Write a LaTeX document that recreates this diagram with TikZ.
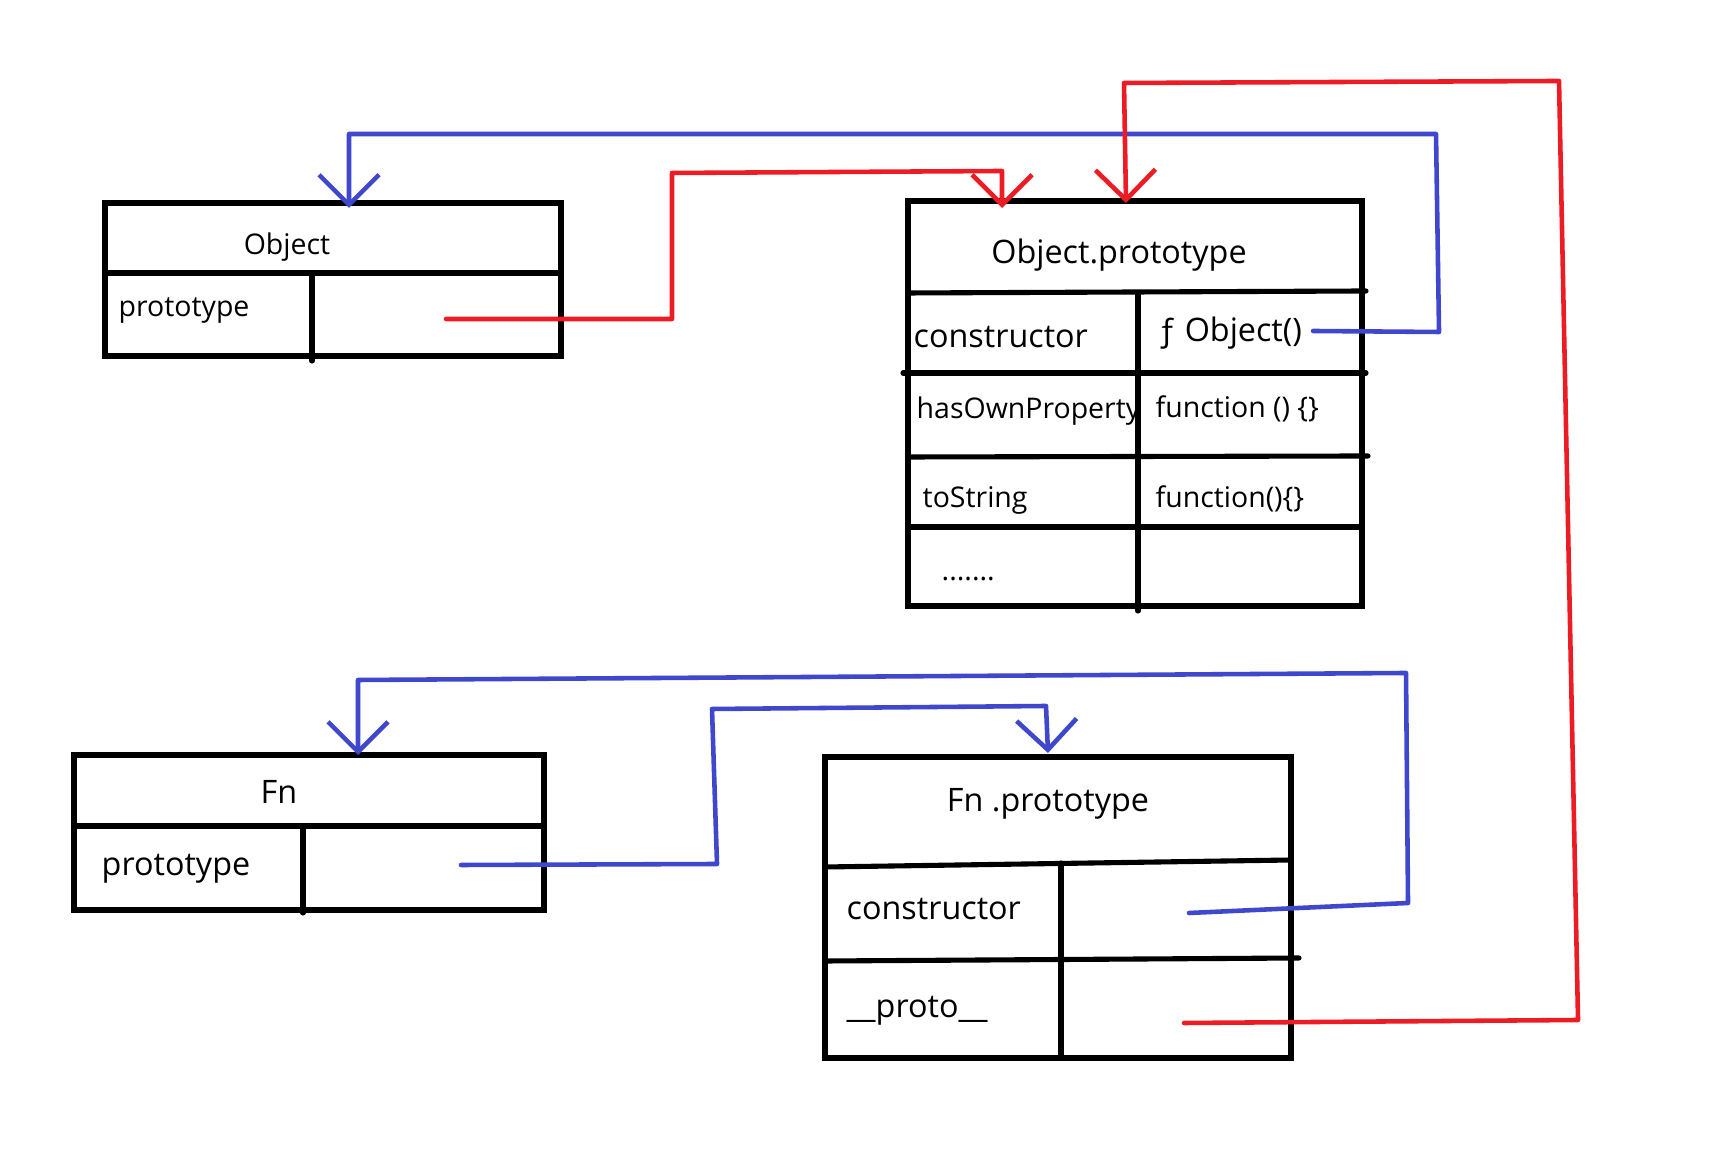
\documentclass[tikz,border=0pt]{standalone}
\usepackage{fontspec}
\setmainfont{Open Sans}
\usetikzlibrary{arrows.meta}

\definecolor{paintred}{RGB}{237,28,36}
\definecolor{paintblue}{RGB}{63,72,204}

\tikzset{
  box/.style={line width=1.45pt, line cap=round},
  redline/.style={paintred, line width=1.3pt, line cap=round, line join=round},
  blueline/.style={paintblue, line width=1.3pt, line cap=round, line join=round},
  barb/.style={-{Straight Barb[length=3mm, width=6mm]}},
  smalltext/.style={font=\fontsize{8.1}{10}\selectfont, inner sep=0pt},
  bigtext/.style={font=\fontsize{9.2}{11}\selectfont, inner sep=0pt}
}

\begin{document}
\begin{tikzpicture}

    % Fix the page to the size of the drawing
    \useasboundingbox (0,0) rectangle (17.36,11.61);

    % Object box: title row and one prototype row
    \draw[box] (1.05,8.05) rectangle (5.61,9.58);
    \draw[box] (1.05,8.88) -- (5.61,8.88);
    \draw[box] (3.12,8.88) -- (3.12,8.00);

    % Object.prototype box: title row and four property rows
    \draw[box] (9.08,5.55) rectangle (13.62,9.60);
    \draw[box] (9.08,8.68) -- (13.66,8.70);
    \draw[box] (9.03,7.88) -- (13.66,7.88);
    \draw[box] (9.08,7.04) -- (13.68,7.05);
    \draw[box] (9.08,6.34) -- (13.62,6.34);
    \draw[box] (11.38,8.68) -- (11.38,5.50);

    % Fn box
    \draw[box] (0.74,2.51) rectangle (5.44,4.06);
    \draw[box] (0.74,3.35) -- (5.44,3.35);
    \draw[box] (3.03,3.35) -- (3.03,2.48);

    % Fn.prototype box
    \draw[box] (8.25,1.03) rectangle (12.91,4.04);
    \draw[box] (8.25,2.94) -- (12.91,3.01);
    \draw[box] (8.25,2.00) -- (12.99,2.03);
    \draw[box] (10.61,2.98) -- (10.61,1.03);

    % Labels of the Object box
    \node[smalltext] (objTitle) at (2.87,9.14) {Object};
    \node[smalltext, anchor=west] (objProto) at (1.18,8.50) {prototype};

    % Labels of the Object.prototype box
    \node[bigtext] (opTitle) at (11.19,9.06) {Object.prototype};
    \node[bigtext, anchor=west] (opCtor) at (9.13,8.24) {constructor};
    \node[bigtext, anchor=west] (opCtorVal) at (11.57,8.28) {ƒ Object()};
    \node[smalltext, anchor=west] (opHas) at (9.16,7.50) {hasOwnProperty};
    \node[smalltext, anchor=west] (opHasVal) at (11.55,7.52) {function () \{\}};
    \node[smalltext, anchor=west] (opStr) at (9.22,6.61) {toString};
    \node[smalltext, anchor=west] (opStrVal) at (11.55,6.62) {function()\{\}};
    \node[smalltext, anchor=base west] (opDots) at (9.41,5.80) {.......};

    % Labels of the Fn box
    \node[bigtext] (fnTitle) at (2.79,3.69) {Fn};
    \node[bigtext, anchor=west] (fnProto) at (1.01,2.92) {prototype};

    % Labels of the Fn.prototype box
    \node[bigtext] (fpTitle) at (10.48,3.57) {Fn .prototype};
    \node[bigtext, anchor=west] (fpCtor) at (8.46,2.52) {constructor};
    \node[bigtext, anchor=west] (fpProto) at (8.46,1.50) {\_\_proto\_\_};

    % Free ends of the pointers and the points they reach
    \coordinate (objPtr) at (4.46,8.42);
    \coordinate (opCtorPtr) at (13.13,8.30);
    \coordinate (fnPtr) at (4.61,2.96);
    \coordinate (fpCtorPtr) at (11.89,2.48);
    \coordinate (fpProtoPtr) at (11.84,1.38);
    \coordinate (objTop) at (3.49,9.53);
    \coordinate (opTopA) at (10.02,9.53);
    \coordinate (opTopB) at (11.26,9.58);
    \coordinate (fnTop) at (3.58,4.06);
    \coordinate (fpTop) at (10.48,4.08);

    % Object.prototype -> Object.prototype box
    \draw[redline, barb] (objPtr) -- (6.72,8.42) -- (6.72,9.88) -- (10.02,9.90) -- (opTopA);

    % constructor of Object.prototype -> Object
    \draw[blueline, barb] (opCtorPtr) -- (14.39,8.29) -- (14.36,10.27) -- (3.49,10.27) -- (objTop);

    % Fn.prototype -> Fn.prototype box
    \draw[blueline, barb] (fnPtr) -- (7.17,2.97) -- (7.12,4.52) -- (10.46,4.55) -- (fpTop);

    % constructor of Fn.prototype -> Fn
    \draw[blueline, barb] (fpCtorPtr) -- (14.08,2.58) -- (14.06,4.88) -- (3.58,4.81) -- (fnTop);

    % __proto__ of Fn.prototype -> Object.prototype
    \draw[redline, barb] (fpProtoPtr) -- (15.78,1.41) -- (15.59,10.80) -- (11.24,10.78) -- (opTopB);

\end{tikzpicture}
\end{document}
